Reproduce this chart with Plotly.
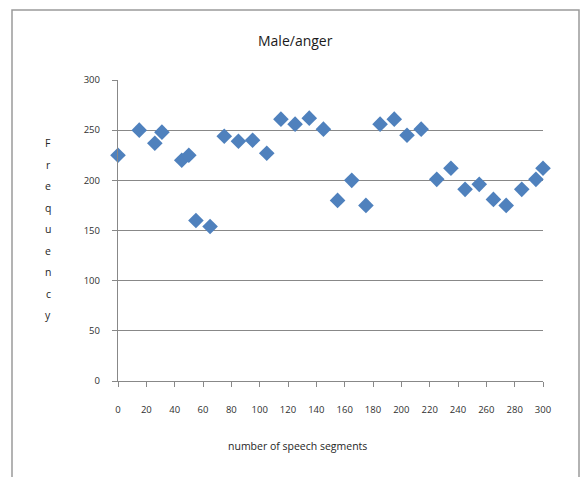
import plotly.graph_objects as go

segments = [0, 15, 26, 31, 45, 50, 55, 65, 75, 85, 95, 105, 115, 125, 135, 145,
            155, 165, 175, 185, 195, 204, 214, 225, 235, 245, 255, 265, 274, 285, 295, 300]
frequency = [225, 250, 237, 248, 220, 225, 160, 154, 244, 239, 240, 227, 261, 256, 262, 251,
             180, 200, 175, 256, 261, 245, 251, 201, 212, 191, 196, 181, 175, 191, 201, 212]
x_ticks = list(range(0, 301, 20))
y_ticks = list(range(0, 301, 50))
y_title_letters = list("Frequency")

W, H = 580, 477
L, R, T, B = 118, 543, 80, 381

def px(xp):
    return (xp - L) / (R - L)

def py(yp):
    return (B - yp) / (B - T)

fig = go.Figure()
fig.add_trace(go.Scatter(
    x=segments, y=frequency, mode="markers", cliponaxis=False,
    marker=dict(symbol="diamond", size=12, color="#4F81BD", line=dict(width=0)),
    showlegend=False,
))

font_family = "Open Sans, Liberation Sans, sans-serif"
grey = "#888888"

fig.update_layout(
    width=W, height=H,
    margin=dict(l=L, r=W - R, t=T, b=H - B, pad=0),
    paper_bgcolor="white", plot_bgcolor="white",
    font=dict(family=font_family, size=9, color="#303030"),
    xaxis=dict(range=[0, 300], tickvals=x_ticks, showgrid=False, zeroline=False,
               showline=True, linecolor=grey, linewidth=1.3,
               ticks="outside", ticklen=5, tickcolor=grey,
               ticklabelstandoff=14, tickfont=dict(size=9.5, color="#303030")),
    yaxis=dict(range=[0, 300], tickvals=y_ticks, showgrid=True, gridcolor=grey, gridwidth=1.3,
               zeroline=False, showline=True, linecolor=grey, linewidth=1.3,
               ticks="outside", ticklen=5, tickcolor=grey,
               ticklabelstandoff=10, tickfont=dict(size=9.5, color="#303030")),
)

annotations = [
    dict(text="Male/anger", x=px(295), y=py(40), xref="paper", yref="paper",
         showarrow=False, font=dict(size=14, color="#1a1a1a", family=font_family),
         xanchor="center", yanchor="middle"),
    dict(text="number of speech segments", x=px(297), y=py(446), xref="paper", yref="paper",
         showarrow=False, font=dict(size=10.5, color="#262626", family=font_family),
         xanchor="center", yanchor="middle"),
]
for i, ch in enumerate(y_title_letters):
    annotations.append(dict(text=ch, x=px(48), y=py(143 + i * 21.5), xref="paper", yref="paper",
                            showarrow=False, font=dict(size=10.5, color="#262626", family=font_family),
                            xanchor="center", yanchor="middle"))
fig.update_layout(annotations=annotations)

fig.add_shape(type="rect", xref="paper", yref="paper",
              x0=px(12), x1=px(579), y0=py(490), y1=py(10),
              line=dict(color="#9A9A9A", width=1.5), fillcolor="rgba(0,0,0,0)", layer="below")

fig.write_html("out.html")
